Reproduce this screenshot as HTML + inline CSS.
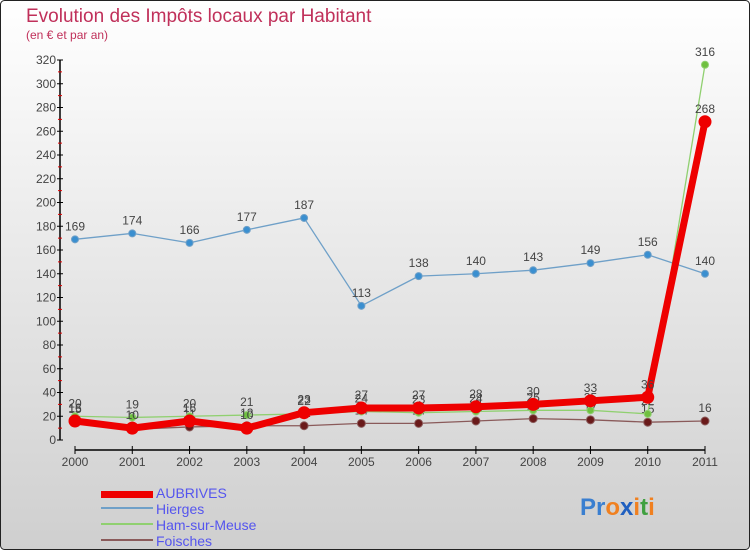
<!DOCTYPE html>
<html><head><meta charset="utf-8"><style>
body{margin:0;width:750px;height:550px;overflow:hidden}
svg{display:block;font-family:"Liberation Sans",sans-serif}
</style></head><body>
<svg id="c" width="750" height="550">
<defs><linearGradient id="bg" x1="0" y1="0" x2="0" y2="1"><stop offset="0" stop-color="#ffffff"/><stop offset="1" stop-color="#cfcfcf"/></linearGradient></defs>
<rect x="0.5" y="0.5" width="749" height="549" rx="4" fill="url(#bg)" stroke="#222"/>
<text x="26" y="22" font-size="19" fill="#c0305a">Evolution des Impôts locaux par Habitant</text>
<text x="26" y="39" font-size="12" fill="#c0305a">(en € et par an)</text>
<g id="axes"></g><g id="series"></g>
<g>
<rect x="101" y="491" width="52" height="7" fill="#e00"/>
<text x="156" y="498" font-size="14" fill="#5555ee">AUBRIVES</text>
<rect x="101" y="507" width="52" height="2" fill="#6fa0c8"/>
<text x="156" y="514" font-size="14" fill="#5555ee">Hierges</text>
<rect x="101" y="523" width="52" height="2" fill="#90d070"/>
<text x="156" y="530" font-size="14" fill="#5555ee">Ham-sur-Meuse</text>
<rect x="101" y="539" width="52" height="2" fill="#8a5a5a"/>
<text x="156" y="546" font-size="14" fill="#5555ee">Foisches</text>
</g>
<text x="580" y="515" font-size="24" font-weight="bold"><tspan fill="#3a7fd0">Pr</tspan><tspan fill="#f08020">o</tspan><tspan fill="#2060c0">x</tspan><tspan fill="#f08020">i</tspan><tspan fill="#40a040">t</tspan><tspan fill="#f08020">i</tspan></text>
</svg>
<script>
const years=[2000,2001,2002,2003,2004,2005,2006,2007,2008,2009,2010,2011];
const yTicks=[0,20,40,60,80,100,120,140,160,180,200,220,240,260,280,300,320];
const aubrives=[16,10,16,10,23,27,27,28,30,33,36,268];
const hierges=[169,174,166,177,187,113,138,140,143,149,156,140];
const ham=[20,19,20,21,22,24,23,24,25,25,22,316];
const foisches=[15,9,11,12,12,14,14,16,18,17,15,16];
const NS="http://www.w3.org/2000/svg";
const X=i=>75+i*(630/11), Y=v=>440-v*(380/320);
function mk(p,t,a){const e=document.createElementNS(NS,t);for(const k in a)e.setAttribute(k,a[k]);p.appendChild(e);return e;}
const ax=document.getElementById('axes');
let l=mk(ax,'line',{x1:60,y1:Y(320),x2:60,y2:440,stroke:'#000','stroke-width':1.5});


yTicks.forEach(v=>{
 mk(ax,'line',{x1:57,y1:Y(v),x2:63,y2:Y(v),stroke:'#000'});
 if(v<320)mk(ax,'line',{x1:58,y1:Y(v+10),x2:62,y2:Y(v+10),stroke:'#d00'});
 const t=mk(ax,'text',{x:56,y:Y(v)+4,'font-size':12,'text-anchor':'end',fill:'#444'});
 t.textContent=v;
 
 
});
l=mk(ax,'line',{x1:X(0),y1:450,x2:X(11),y2:450,stroke:'#000','stroke-width':1.5});


years.forEach((y,i)=>{
 mk(ax,'line',{x1:X(i),y1:446,x2:X(i),y2:454,stroke:'#000'});
 const t=mk(ax,'text',{x:X(i),y:466,'font-size':12,'text-anchor':'middle',fill:'#444'});
 t.textContent=y;
 
 
});
const sg=document.getElementById('series');
function draw(name,vals,col,w,r,dot){
 const g=mk(sg,'g',{});
 
 
 const pl=mk(g,'polyline',{points:vals.map((v,i)=>X(i)+','+Y(v)).join(' '),fill:'none',stroke:col,'stroke-width':w,'stroke-linejoin':'round'});
 
 
 vals.forEach((v,i)=>{
  const c=mk(g,'circle',{cx:X(i),cy:Y(v),r:r,fill:dot,stroke:col,'stroke-width':1});
  
  
  const t=mk(g,'text',{x:X(i),y:Y(v)-9,'font-size':12,'text-anchor':'middle',fill:'#444'});
  t.textContent=v;
  
  
 });
}
draw('hierges',hierges,'#6fa0c8',1.3,3.5,'#3a8fd0');
draw('foisches',foisches,'#8a5a5a',1.3,4,'#6a1a1a');
draw('ham',ham,'#90d070',1.3,3.5,'#70c040');
draw('aubrives',aubrives,'#ee0000',7,6,'#ee0000');
</script>
</body></html>
